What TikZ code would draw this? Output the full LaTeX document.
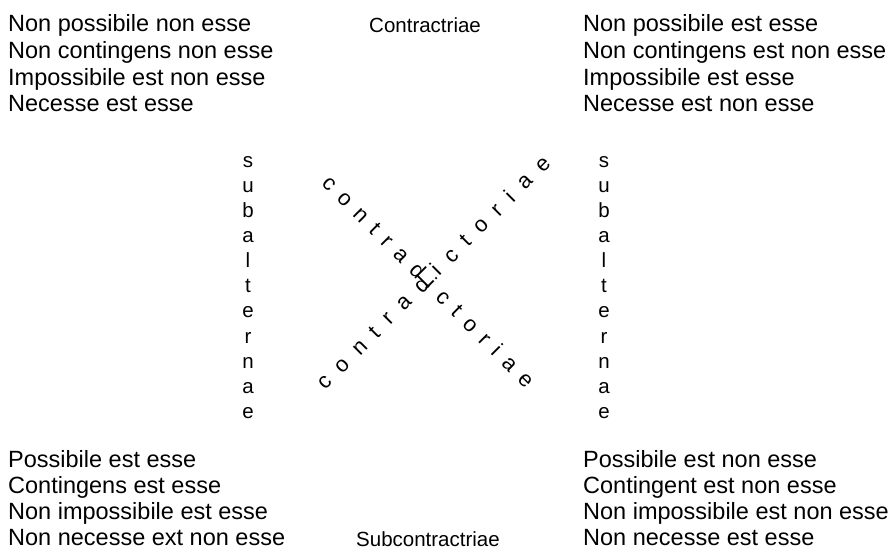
\documentclass[tikz,border=0pt]{standalone}
\usepackage{fontspec}
\setmainfont{Liberation Sans}
\tikzset{
  textline/.style={anchor=base west, inner sep=0pt, font=\fontsize{23.5}{26.7}\selectfont},
  sidelabel/.style={anchor=base west, inner sep=0pt, font=\fontsize{20.5}{24}\selectfont},
  letter/.style={inner sep=0pt, anchor=center, text height=10.6pt, text depth=0pt, font=\fontsize{20.5}{24}\selectfont},
  diagtext/.style={inner sep=0pt, anchor=center, text height=11.5pt, text depth=0pt, font=\fontsize{22}{26}\selectfont},
}
\begin{document}
\begin{tikzpicture}[x=1pt,y=-1pt]
\useasboundingbox (0,0) rectangle (894,555);
% top-left block
\foreach \t [count=\i] in {Non possibile non esse, Non contingens non esse, Impossibile est non esse, Necesse est esse}
  \node[textline] (tl\i) at (8,{31.7+(\i-1)*26.7}) {\t};
% top-right block
\foreach \t [count=\i] in {Non possibile est esse, Non contingens est non esse, Impossibile est esse, Necesse est non esse}
  \node[textline] (tr\i) at (583,{31.7+(\i-1)*26.7}) {\t};
% bottom-left block
\foreach \t [count=\i] in {Possibile est esse, Contingens est esse, Non impossibile est esse, Non necesse ext non esse}
  \node[textline] (bl\i) at (8,{467.3+(\i-1)*26.2}) {\t};
% bottom-right block
\foreach \t [count=\i] in {Possibile est non esse, Contingent est non esse, Non impossibile est non esse, Non necesse est esse}
  \node[textline] (br\i) at (583,{467.3+(\i-1)*26.2}) {\t};
% labels
\node[sidelabel] (contr) at (369,32) {Contractriae};
\node[sidelabel] (subcontr) at (356,546) {Subcontractriae};
% subalternae
\foreach \ch [count=\i from 0] in {s,u,b,a,l,t,e,r,n,a,e}{
  \node[letter] (sl\i) at (248,{162+\i*25.1}) {\ch};
  \node[letter] (sr\i) at (604,{162+\i*25.1}) {\ch};
}
% contradictoriae diagonals
\node[diagtext, rotate=45] (up) at (430.5,278)
  {\addfontfeature{LetterSpace=57}contradictoriae\kern-12.5pt};
\node[diagtext, rotate=-45] (down) at (423.5,279)
  {\addfontfeature{LetterSpace=47}contradictoriae\kern-10.4pt};
\end{tikzpicture}
\end{document}
